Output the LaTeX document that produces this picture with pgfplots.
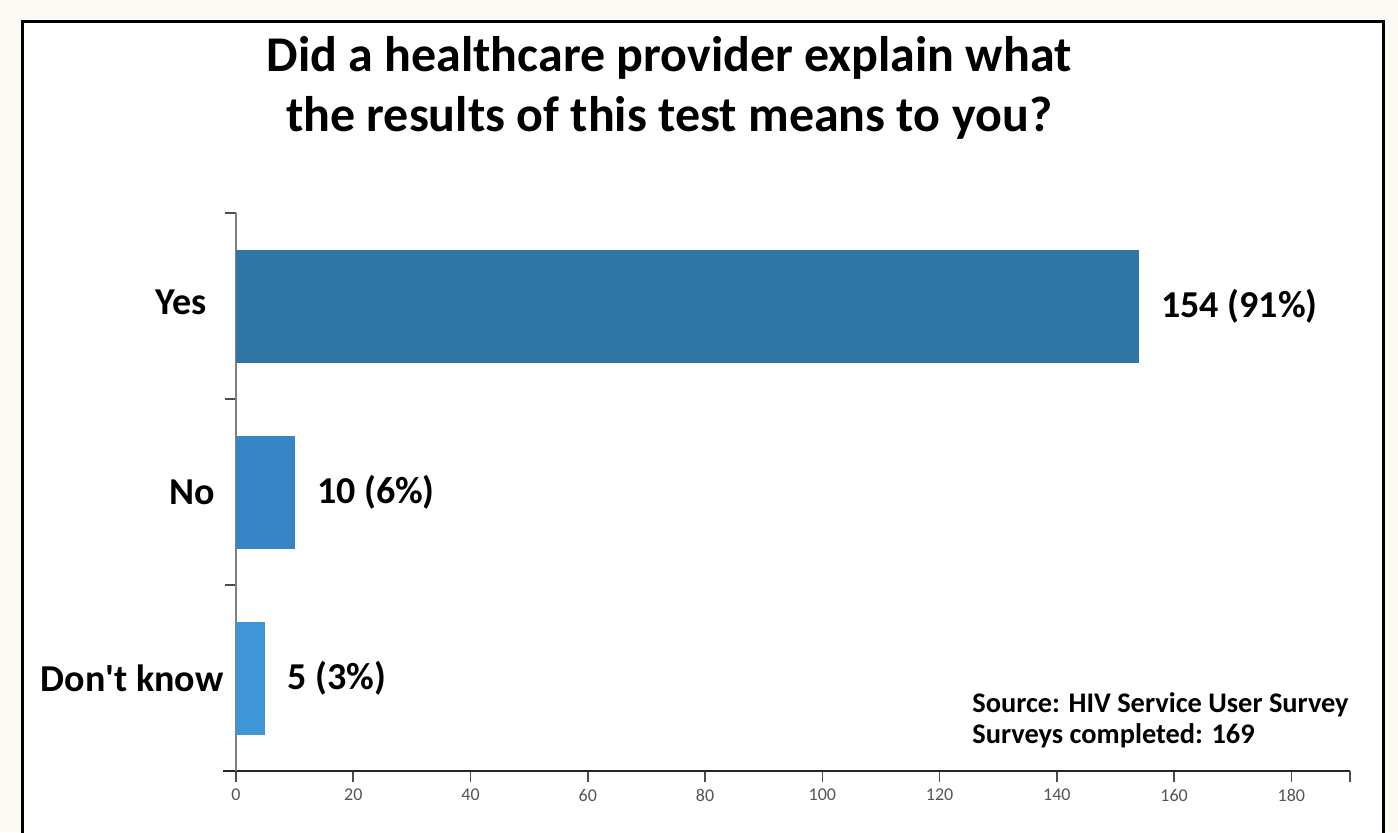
\documentclass[border=0pt]{standalone}
\usepackage{fontspec}
\setmainfont{Carlito}
\usepackage{pgfplots}
\pgfplotsset{compat=1.18}

\definecolor{bgcream}{HTML}{FCFAF5}
\definecolor{barYes}{HTML}{2F76A7}
\definecolor{barNo}{HTML}{3885C5}
\definecolor{barDK}{HTML}{4095D6}
\definecolor{tickgray}{HTML}{555555}

\begin{document}
\begin{tikzpicture}
\useasboundingbox (0,0) rectangle (699pt,416pt);
\fill[bgcream] (0,0) rectangle (699pt,416pt);
\fill[white] (11.25pt,-5pt) rectangle (691.7pt,405.3pt);
\draw[line width=1.5pt] (11.25pt,-5pt) -- (11.25pt,405.3pt) -- (691.7pt,405.3pt) -- (691.7pt,-5pt);

% title
\node[anchor=base, inner sep=0pt, font=\fontsize{25}{30}\selectfont\bfseries] at (334.5pt,380pt) {Did a healthcare provider explain what};
\node[anchor=base, inner sep=0pt, font=\fontsize{25}{30}\selectfont\bfseries] at (334.5pt,350pt) {the results of this test means to you?};

\begin{axis}[
    at={(118pt,30.5pt)}, anchor=south west,
    scale only axis, width=557pt, height=279pt,
    xmin=0, xmax=190, ymin=-0.5, ymax=2.5,
    axis x line*=bottom, axis y line*=left,
    x axis line style={-, draw=black!85, line width=0.9pt, shorten <=-6.5pt},
    y axis line style={-, draw=black!50, line width=0.8pt},
    tick align=outside,
    major tick length=5.5pt,
    tick style={draw=black!70, line width=0.8pt},
    xtick={0,20,...,180},
    extra x ticks={190}, extra x tick labels={},
    xticklabel style={font=\fontsize{9}{10}\selectfont, text=tickgray},
    /pgf/number format/assume math mode=true,
    ytick={-0.5,0.5,1.5,2.5}, yticklabels={},
    extra y ticks={0,1,2},
    extra y tick labels={{Don\textquotesingle t know\kern6pt},{No\kern10.5pt},{\raisebox{4pt}{Yes}\kern14.5pt}},
    extra y tick style={major tick length=0pt,
      yticklabel style={anchor=east, inner sep=0pt, font=\fontsize{19}{23}\selectfont\bfseries}},
    xbar, bar width=56.5pt, bar shift=0pt,
    nodes near coords, point meta=explicit symbolic,
    nodes near coords style={anchor=west, inner sep=0pt, xshift=11pt,
      font=\fontsize{19}{23}\selectfont\bfseries, text=black},
    clip=false,
]
\addplot[fill=barDK, draw=none, bar shift=0pt] coordinates {(5,0) [5 (3\%)]};
\addplot[fill=barNo, draw=none, bar shift=0pt] coordinates {(10,1) [10 (6\%)]};
\addplot[fill=barYes, draw=none, bar shift=0pt] coordinates {(154,2) [154 (91\%)]};
\end{axis}

% source note
\node[anchor=base west, inner sep=0pt, font=\fontsize{14.2}{17}\selectfont\bfseries] at (486pt,60pt) {Source: HIV Service User Survey};
\node[anchor=base west, inner sep=0pt, font=\fontsize{14.2}{17}\selectfont\bfseries] at (486pt,44.5pt) {Surveys completed: 169};
\end{tikzpicture}
\end{document}
